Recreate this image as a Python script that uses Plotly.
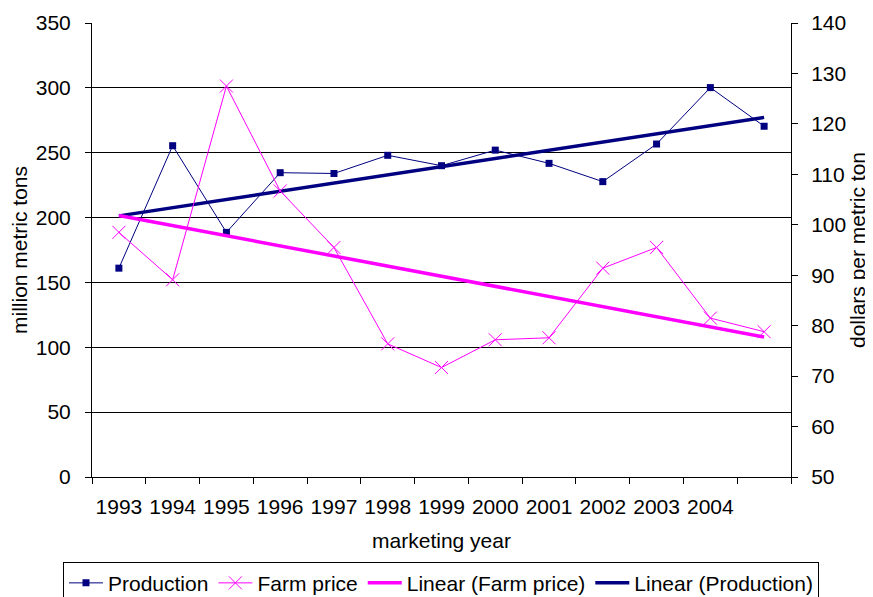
import numpy as np
import plotly.graph_objects as go

years = ["1993", "1994", "1995", "1996", "1997", "1998", "1999",
         "2000", "2001", "2002", "2003", "2004", ""]
production = [161, 255.4, 188.6, 234.6, 234, 248, 240,
              252, 241.8, 227.7, 256.7, 300.2, 270.4]
farm_price = [98.5, 89.1, 127.5, 106.7, 95.5, 76.4, 71.7,
              77.2, 77.6, 91.4, 95.5, 81.5, 78.8]

NAVY = "#000080"
MAGENTA = "#FF00FF"
FONT = "Liberation Sans, Arial, sans-serif"
TITLE_FONT = dict(family=FONT, size=21, color="black")

idx = np.arange(len(years))
p_fit = np.polyval(np.polyfit(idx, production, 1), idx)
f_fit = np.polyval(np.polyfit(idx, farm_price, 1), idx)

fig = go.Figure()
fig.add_trace(go.Scatter(
    x=idx, y=production, name="Production", mode="lines+markers",
    line=dict(color=NAVY, width=1),
    marker=dict(symbol="square", size=7, color=NAVY),
    yaxis="y"))
fig.add_trace(go.Scatter(
    x=idx, y=farm_price, name="Farm price", mode="lines+markers",
    line=dict(color=MAGENTA, width=1),
    marker=dict(symbol="x-thin", size=13, line=dict(color=MAGENTA, width=1)),
    yaxis="y2"))
fig.add_trace(go.Scatter(
    x=idx, y=f_fit, name="Linear (Farm price)", mode="lines",
    line=dict(color=MAGENTA, width=3.5), yaxis="y2"))
fig.add_trace(go.Scatter(
    x=idx, y=p_fit, name="Linear (Production)", mode="lines",
    line=dict(color=NAVY, width=3.5), yaxis="y"))

boundaries = [i - 0.5 for i in range(len(years) + 1)]

# The page body adds an 8px margin, so the figure is drawn 8px smaller
fig.update_layout(
    width=865, height=589,
    margin=dict(l=84, r=82, t=15, b=120, autoexpand=False),
    paper_bgcolor="white", plot_bgcolor="white",
    font=dict(family=FONT, size=21, color="black"),
    showlegend=True,
    legend=dict(orientation="h", x=-0.0415, xanchor="left", y=-0.1866, yanchor="top",
                bordercolor="black", borderwidth=1, bgcolor="white",
                font=dict(size=21), itemwidth=34, tracegroupgap=0),
    xaxis=dict(
        range=[-0.5, len(years) - 0.5],
        tickmode="array", tickvals=list(idx), ticktext=years,
        ticks="", showgrid=False, zeroline=False,
        showline=True, linecolor="black", linewidth=1,
        ticklabelstandoff=11, automargin=False,
        minor=dict(tickmode="array", tickvals=boundaries, ticks="outside",
                   ticklen=6, tickcolor="black", showgrid=False),
        title=dict(text="marketing year", standoff=16, font=TITLE_FONT),
    ),
    yaxis=dict(
        range=[0, 350], dtick=50, tick0=0,
        showgrid=True, gridcolor="black", gridwidth=1,
        zeroline=False, showline=True, linecolor="black", linewidth=1,
        ticks="outside", ticklen=6, tickcolor="black",
        ticklabelstandoff=10, automargin=False,
        title=dict(text="million metric tons", standoff=4, font=TITLE_FONT),
    ),
    yaxis2=dict(
        range=[50, 140], dtick=10, tick0=50,
        overlaying="y", side="right",
        showgrid=False, zeroline=False,
        showline=True, linecolor="black", linewidth=1,
        ticks="outside", ticklen=6, tickcolor="black",
        ticklabelstandoff=9, automargin=False,
        title=dict(text="dollars per metric ton", standoff=4, font=TITLE_FONT),
    ),
)

fig.write_html("out.html")
